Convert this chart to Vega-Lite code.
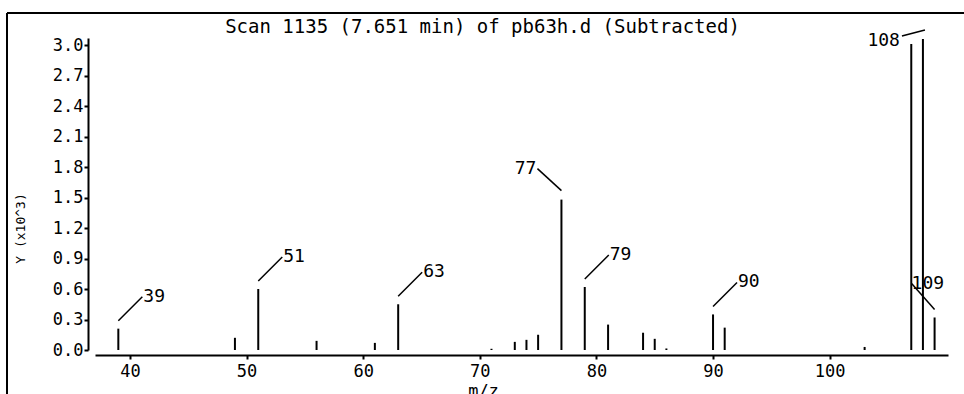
{
  "$schema": "https://vega.github.io/schema/vega-lite/v6.json",
  "autosize": {"type": "none"},
  "padding": {"left": 7, "top": 13, "right": 0, "bottom": 0},
  "width": 957,
  "height": 381,
  "background": "white",
  "config": {
    "view": {"stroke": "black", "strokeWidth": 2, "strokeDash": [957, 1338, 381, 0]},
    "font": "DejaVu Sans Mono",
    "text": {"font": "DejaVu Sans Mono", "fontSize": 18, "color": "black"}
  },
  "title": {
    "text": "Scan 1135 (7.651 min) of pb63h.d (Subtracted)",
    "anchor": "middle",
    "frame": "group",
    "offset": -24,
    "dx": -3,
    "font": "DejaVu Sans Mono",
    "fontSize": 19,
    "fontWeight": "normal",
    "color": "black"
  },
  "datasets": {
    "peaks": [
      {"mz": 39, "intensity": 0.21},
      {"mz": 49, "intensity": 0.12},
      {"mz": 51, "intensity": 0.60},
      {"mz": 56, "intensity": 0.09},
      {"mz": 61, "intensity": 0.07},
      {"mz": 63, "intensity": 0.45},
      {"mz": 71, "intensity": 0.012},
      {"mz": 73, "intensity": 0.08},
      {"mz": 74, "intensity": 0.10},
      {"mz": 75, "intensity": 0.15},
      {"mz": 77, "intensity": 1.48},
      {"mz": 79, "intensity": 0.62},
      {"mz": 81, "intensity": 0.25},
      {"mz": 84, "intensity": 0.17},
      {"mz": 85, "intensity": 0.11},
      {"mz": 86, "intensity": 0.015},
      {"mz": 90, "intensity": 0.35},
      {"mz": 91, "intensity": 0.22},
      {"mz": 103, "intensity": 0.03},
      {"mz": 107, "intensity": 3.01},
      {"mz": 108, "intensity": 3.06},
      {"mz": 109, "intensity": 0.32}
    ]
  },
  "data": {"name": "peaks"},
  "encoding": {
    "x": {
      "field": "mz",
      "type": "quantitative",
      "scale": {"domain": [37, 110.15], "range": [88, 941], "nice": false, "zero": false},
      "axis": {
        "orient": "bottom",
        "offset": -39,
        "values": [40, 50, 60, 70, 80, 90, 100],
        "grid": false,
        "tickSize": 4,
        "tickWidth": 2,
        "tickColor": "black",
        "domainWidth": 2,
        "domainColor": "black",
        "labelColor": "black",
        "labelFont": "DejaVu Sans Mono",
        "labelFontSize": 17,
        "labelPadding": 4,
        "title": "m/z",
        "titleFont": "DejaVu Sans Mono",
        "titleFontSize": 17,
        "titleFontWeight": "normal",
        "titleColor": "black",
        "titleX": 476,
        "titleY": 41,
        "titleAlign": "center",
        "titleBaseline": "alphabetic"
      }
    },
    "y": {
      "field": "intensity",
      "type": "quantitative",
      "scale": {"domain": [0, 3.07], "range": [337, 25], "nice": false, "zero": false},
      "axis": {
        "orient": "left",
        "offset": -81,
        "values": [0, 0.3, 0.6, 0.9, 1.2, 1.5, 1.8, 2.1, 2.4, 2.7, 3.0],
        "format": ".1f",
        "grid": false,
        "tickSize": 4,
        "tickWidth": 2,
        "tickColor": "black",
        "domainWidth": 2,
        "domainColor": "black",
        "labelColor": "black",
        "labelFont": "DejaVu Sans Mono",
        "labelFontSize": 17,
        "labelPadding": 1,
        "title": "Y (x10^3)",
        "titleFont": "DejaVu Sans Mono",
        "titleFontSize": 13,
        "titleFontWeight": "normal",
        "titleColor": "black",
        "titleAngle": -90,
        "titleX": -68,
        "titleY": 215,
        "titleAlign": "center",
        "titleBaseline": "middle"
      }
    }
  },
  "layer": [
    {
      "mark": {"type": "rule", "strokeWidth": 2, "color": "black"},
      "encoding": {"y2": {"datum": 0}}
    },
    {
      "transform": [{"filter": {"field": "mz", "oneOf": [39, 51, 63, 79, 90]}}],
      "layer": [
        {
          "mark": {"type": "rule", "strokeWidth": 1.5, "color": "black", "yOffset": -8, "x2Offset": 24, "y2Offset": -32},
          "encoding": {"x2": {"field": "mz"}, "y2": {"field": "intensity"}}
        },
        {
          "mark": {"type": "text", "align": "left", "baseline": "middle", "dx": 25, "dy": -32},
          "encoding": {"text": {"field": "mz", "type": "quantitative", "format": "d"}}
        }
      ]
    },
    {
      "transform": [{"filter": {"field": "mz", "equal": 77}}],
      "layer": [
        {
          "mark": {"type": "rule", "strokeWidth": 1.5, "color": "black", "yOffset": -9, "x2Offset": -24, "y2Offset": -31},
          "encoding": {"x2": {"field": "mz"}, "y2": {"field": "intensity"}}
        },
        {
          "mark": {"type": "text", "align": "right", "baseline": "middle", "dx": -25, "dy": -31},
          "encoding": {"text": {"field": "mz", "type": "quantitative", "format": "d"}}
        }
      ]
    },
    {
      "transform": [{"filter": {"field": "mz", "equal": 108}}],
      "layer": [
        {
          "mark": {"type": "rule", "strokeWidth": 1.5, "color": "black", "xOffset": 2, "yOffset": -9, "x2Offset": -21, "y2Offset": -3},
          "encoding": {"x2": {"field": "mz"}, "y2": {"field": "intensity"}}
        },
        {
          "mark": {"type": "text", "align": "right", "baseline": "middle", "dx": -23, "dy": 2},
          "encoding": {"text": {"field": "mz", "type": "quantitative", "format": "d"}}
        }
      ]
    },
    {
      "transform": [{"filter": {"field": "mz", "equal": 109}}],
      "layer": [
        {
          "mark": {"type": "rule", "strokeWidth": 1.5, "color": "black", "yOffset": -8, "x2Offset": -23, "y2Offset": -34},
          "encoding": {"x2": {"field": "mz"}, "y2": {"field": "intensity"}}
        },
        {
          "mark": {"type": "text", "align": "left", "baseline": "middle", "dx": -23, "dy": -33},
          "encoding": {"text": {"field": "mz", "type": "quantitative", "format": "d"}}
        }
      ]
    }
  ]
}
